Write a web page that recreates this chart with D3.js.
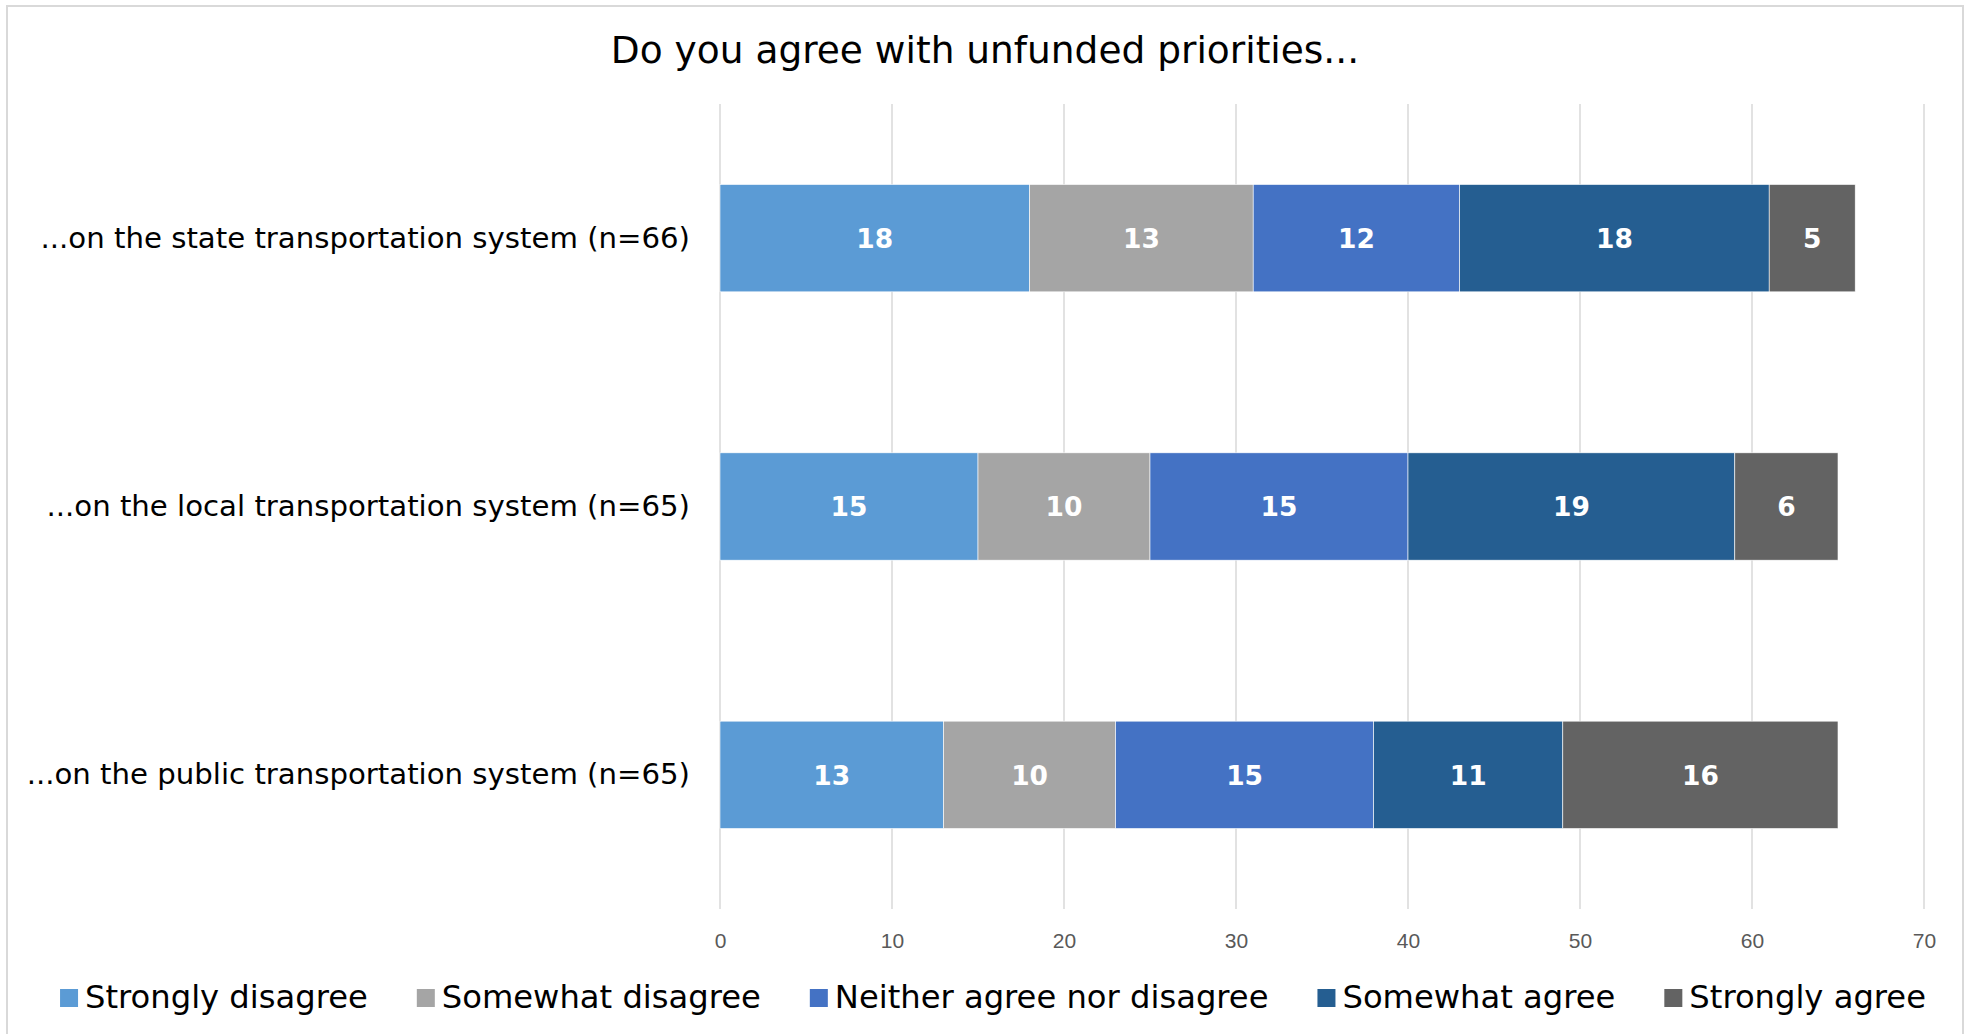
<!DOCTYPE html>
<html>
<head>
<meta charset="utf-8">
<script src="https://cdn.jsdelivr.net/npm/d3@7"></script>
<style>
  body { margin: 0; background: #fff; }
  svg { display: block; }
</style>
</head>
<body>
<div id="chart"></div>
<script>
// chart data
var categories = [
    "...on the state transportation system (n=66)",
    "...on the local transportation system (n=65)",
    "...on the public transportation system (n=65)"
];
var seriesNames = ["Strongly disagree", "Somewhat disagree", "Neither agree nor disagree", "Somewhat agree", "Strongly agree"];
var stronglyDisagree = [18, 15, 13];
var somewhatDisagree = [13, 10, 10];
var neitherAgree = [12, 15, 15];
var somewhatAgree = [18, 19, 11];
var stronglyAgree = [5, 6, 16];
var xTicks = [0, 10, 20, 30, 40, 50, 60, 70];
var title = "Do you agree with unfunded priorities...";

var colors = ['#5B9BD5', '#A5A5A5', '#4472C4', '#255E91', '#636363'];

var W = 1965, H = 1034;
var margin = {top: 104, right: 41, bottom: 125, left: 720};
var width = W - margin.left - margin.right,
    height = H - margin.top - margin.bottom;

var svg = d3.select("#chart")
    .append("svg")
    .attr("width", W)
    .attr("height", H);

// outer border
svg.append("rect")
    .attr("x", 7).attr("y", 6)
    .attr("width", 1956).attr("height", 1040)
    .attr("fill", "none")
    .attr("stroke", "#D9D9D9")
    .attr("stroke-width", 2);

svg.append("text")
    .attr("x", 985)
    .attr("y", 63)
    .attr("text-anchor", "middle")
    .attr("font-family", "DejaVu Sans, Verdana, sans-serif")
    .attr("font-size", 37.5)
    .attr("fill", "#000")
    .text(title);

var g = svg.append("g")
    .attr("transform", "translate(" + margin.left + "," + margin.top + ")");

var x = d3.scaleLinear()
    .domain([0, 70])
    .range([0, width]);

var y = d3.scaleBand()
    .domain(categories)
    .range([0, height])
    .paddingInner(0.6)
    .paddingOuter(0.3);

// gridlines
g.append("g")
    .selectAll("line")
    .data(xTicks)
    .enter().append("line")
    .attr("x1", function(d) { return x(d); })
    .attr("x2", function(d) { return x(d); })
    .attr("y1", 0)
    .attr("y2", height)
    .attr("stroke", "#D9D9D9")
    .attr("stroke-width", 1.5);

// x axis labels
var xAxis = g.append("g")
    .attr("transform", "translate(0," + height + ")")
    .call(d3.axisBottom(x).tickValues(xTicks).tickSize(0).tickPadding(0));
xAxis.select(".domain").remove();
xAxis.selectAll("text")
    .attr("dy", null)
    .attr("y", 39)
    .attr("font-family", "Liberation Sans, Arial, sans-serif")
    .attr("font-size", 21)
    .attr("fill", "#595959");

// category labels
var yAxis = g.append("g")
    .call(d3.axisLeft(y).tickSize(0).tickPadding(30));
yAxis.select(".domain").remove();
yAxis.selectAll("text")
    .attr("font-family", "DejaVu Sans, Verdana, sans-serif")
    .attr("font-size", 29.2)
    .attr("fill", "#000");

// stack the series
var seriesValues = [stronglyDisagree, somewhatDisagree, neitherAgree, somewhatAgree, stronglyAgree];
var rows = categories.map(function(c, i) {
    var r = {category: c};
    seriesNames.forEach(function(s, j) { r[s] = seriesValues[j][i]; });
    return r;
});
var stacked = d3.stack().keys(seriesNames)(rows);

var layers = g.append("g")
    .selectAll("g")
    .data(stacked)
    .enter().append("g")
    .attr("fill", function(d, i) { return colors[i]; });

layers.selectAll("rect")
    .data(function(d) { return d; })
    .enter().append("rect")
    .attr("x", function(d) { return x(d[0]); })
    .attr("y", function(d) { return y(d.data.category); })
    .attr("width", function(d) { return x(d[1]) - x(d[0]); })
    .attr("height", y.bandwidth())
    .attr("stroke", "#fff")
    .attr("stroke-width", 0.6);

layers.selectAll("text")
    .data(function(d) { return d; })
    .enter().append("text")
    .attr("x", function(d) { return (x(d[0]) + x(d[1])) / 2; })
    .attr("y", function(d) { return y(d.data.category) + y.bandwidth() / 2; })
    .attr("dy", "0.37em")
    .attr("text-anchor", "middle")
    .attr("font-family", "DejaVu Sans, Verdana, sans-serif")
    .attr("font-weight", "bold")
    .attr("font-size", 26.5)
    .attr("fill", "#fff")
    .text(function(d) { return d[1] - d[0]; });

// legend
var legend = svg.append("g");
var lx = 0;
var gap = 49;
seriesNames.forEach(function(name, i) {
    var item = legend.append("g").attr("transform", "translate(" + lx + ",0)");
    item.append("rect")
        .attr("x", 0).attr("y", -19)
        .attr("width", 18).attr("height", 18)
        .attr("fill", colors[i]);
    var t = item.append("text")
        .attr("x", 25)
        .attr("y", 0)
        .attr("font-family", "DejaVu Sans, Verdana, sans-serif")
        .attr("font-size", 32.2)
        .attr("fill", "#000")
        .text(name);
    lx += 25 + t.node().getComputedTextLength() + gap;
});
var legendWidth = lx - gap;
legend.attr("transform", "translate(" + (993 - legendWidth / 2) + ",1008)");
</script>
</body>
</html>
